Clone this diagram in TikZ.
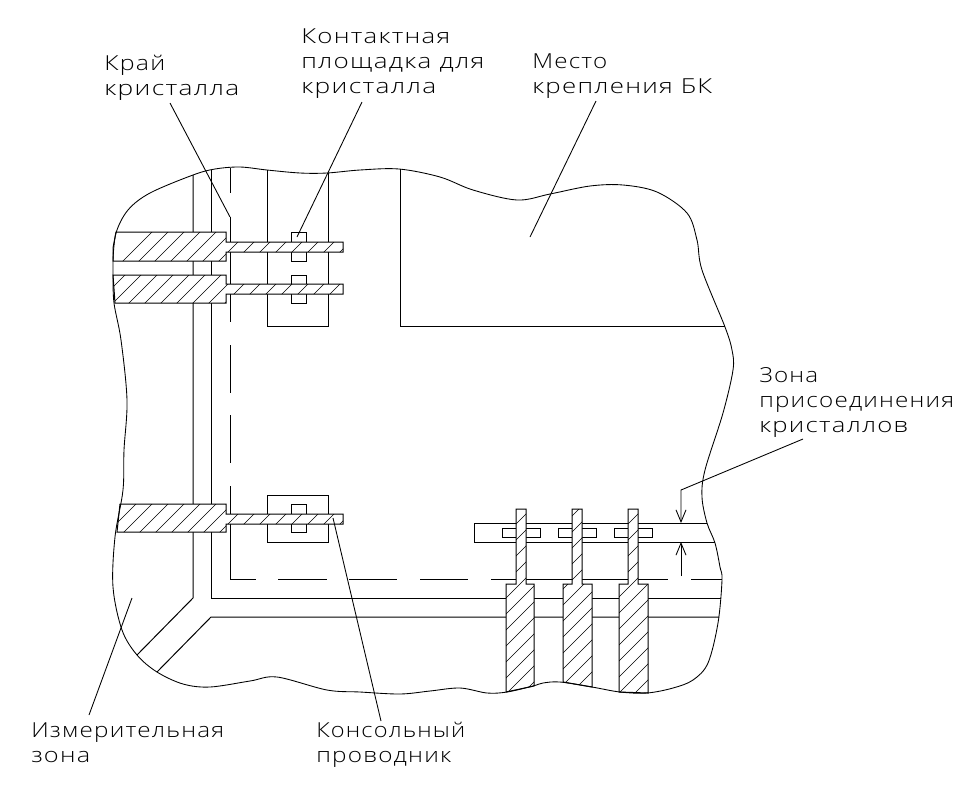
\documentclass[tikz,border=0pt]{standalone}
\usepackage{fontspec}
\usepackage{graphicx}
\usetikzlibrary{arrows.meta}
\newfontfamily\lblfont[FakeStretch=1.2,LetterSpace=6]{Open Sans Light}
\tikzset{
  ln/.style={line width=0.75pt,black},
  thin ln/.style={line width=0.65pt,black},
  hatch/.style={line width=0.5pt,black},
  lbl/.style={anchor=north west,inner sep=0pt,align=left,font=\lblfont\fontsize{15.5pt}{18.75pt}\selectfont},
  dimarrow/.style={thin ln,-{Straight Barb[length=9pt,width=7.5pt]}}
}
\newcommand\fitline[2]{\resizebox{\dimexpr #1pt*3/4\relax}{\height}{#2}}
\newcommand\hatched[3]{%
  \fill[white] #1;
  \begin{scope}\clip #1;
    \foreach \c in {#2,...,#3}{\draw[hatch] (\c,0) -- (0,\c);}
  \end{scope}
  \draw[ln] #1;}
\begin{document}
\begin{tikzpicture}[x=0.75pt,y=-0.75pt]
\useasboundingbox (0,0) rectangle (978,794);
\fill[white] (0,0) rectangle (978,794);
% vertical and horizontal lines
\draw[ln] (193,175) -- (193,598) -- (137,655);
\draw[ln] (211,170) -- (211,598) -- (721,598);
\draw[ln] (157,672) -- (211,617) -- (719,617);
\draw[ln] (230,168) -- (230,193);
\draw[ln] (230,217) -- (230,322);
\draw[ln] (230,345) -- (230,393);
\draw[ln] (230,415) -- (230,463);
\draw[ln] (230,486) -- (230,579) -- (256,579);
\foreach \a/\b in {278/327,349/397,420/468,491/668,691/722}{\draw[ln] (\a,579) -- (\b,579);}
\draw[ln] (400,169) -- (400,326) -- (725,326);
% pads
\draw[ln] (267,170) -- (267,326) -- (328,326) -- (328,173);
\draw[ln] (267,495) rectangle (328,542);
\draw[ln] (291,232) rectangle (306,261);
\draw[ln] (291,275) rectangle (306,303);
\draw[ln] (291,504) rectangle (306,532);
\draw[ln] (707,523) -- (474,523) -- (474,542) -- (715,542);
\draw[ln] (502,528) rectangle (540,537);
\draw[ln] (558,528) rectangle (596,537);
\draw[ln] (614,528) rectangle (652,537);
% conductors
\hatched{(116,232) -- (226,232) -- (226,242) -- (343,242) -- (343,252) -- (226,252) -- (226,261) -- (113,261) -- (113,248) -- cycle}{384,400}{608}
\hatched{(113,275) -- (226,275) -- (226,284) -- (343,284) -- (343,294) -- (226,294) -- (226,303) -- (115,303) -- cycle}{400,416}{656}
\hatched{(120,504) -- (226,504) -- (226,514) -- (343,514) -- (343,524) -- (226,524) -- (226,532) -- (117,532) -- cycle}{624,640}{880}
\hatched{(506,692) -- (506,584) -- (516,584) -- (516,509) -- (526,509) -- (526,584) -- (534,584) -- (534,686) -- cycle}{1024,1040}{1232}
\hatched{(563,682) -- (563,584) -- (572,584) -- (572,509) -- (582,509) -- (582,584) -- (592,584) -- (592,687) -- cycle}{1072,1088}{1280}
\hatched{(619,692) -- (619,584) -- (628,584) -- (628,509) -- (638,509) -- (638,584) -- (648,584) -- (648,693) -- cycle}{1136,1152}{1344}
% outline of the board
\draw[thin ln] plot[smooth,tension=0.55] coordinates {
 (113,260) (116,233) (128,210) (150,193) (193,175) (215,169) (240,167) (267,170)
 (300,173) (327,173) (360,170) (399,169) (440,177) (473,190) (517,200) (550,194)
 (590,186) (623,185) (657,192) (687,213) (697,240) (702,270) (725,327) (732,350)
 (733,370) (723,413) (705,470) (702,497) (707,523) (715,543) (720,567) (722,580)
 (718,623) (708,663) (693,680) (673,688) (647,693) (620,692) (592,687) (560,682)
 (543,683) (533,686) (507,692) (487,693) (460,688) (430,691) (400,694) (360,692)
 (327,690) (277,677) (250,681) (210,687) (183,684) (157,672) (137,655) (122,630)
 (113,587) (115,537) (123,490) (124,450) (127,400) (121,340) (114,303) (113,275)
 (113,260)};
% labels
\node[lbl] (krai) at (104,55) {\fitline{61}{Край}\\\fitline{135}{кристалла}};
\node[lbl] (pad) at (301,28) {\fitline{149}{Контактная}\\\fitline{183}{площадка для}\\\fitline{135}{кристалла}};
\node[lbl] (mesto) at (532,53) {\fitline{75}{Место}\\\fitline{180}{крепления БК}};
\node[lbl] (zona) at (759,367) {\fitline{59}{Зона}\\\fitline{195}{присоединения}\\\fitline{149}{кристаллов}};
\node[lbl] (izm) at (31,722) {\fitline{193}{Измерительная}\\\fitline{59}{зона}};
\node[lbl] (kons) at (316,722) {\fitline{149}{Консольный}\\\fitline{135}{проводник}};
% leaders
\coordinate (kraiA) at (170,103); \coordinate (kraiB) at (230,217);
\coordinate (padA) at (362,102); \coordinate (padB) at (297,237);
\coordinate (mestoA) at (596,101); \coordinate (mestoB) at (530,237);
\coordinate (izmA) at (89,715); \coordinate (izmB) at (132,598);
\coordinate (konsA) at (381,721); \coordinate (konsB) at (333,518);
\coordinate (zonaA) at (803,439); \coordinate (zonaB) at (681,490); \coordinate (zonaC) at (681,523);
\coordinate (dimA) at (681,576); \coordinate (dimB) at (681,542);
\draw[thin ln] (kraiA) -- (kraiB);
\draw[thin ln] (padA) -- (padB);
\draw[thin ln] (mestoA) -- (mestoB);
\draw[thin ln] (izmA) -- (izmB);
\draw[thin ln] (konsA) -- (konsB);
\draw[dimarrow] (zonaA) -- (zonaB) -- (zonaC);
\draw[dimarrow] (dimA) -- (dimB);
\end{tikzpicture}
\end{document}
